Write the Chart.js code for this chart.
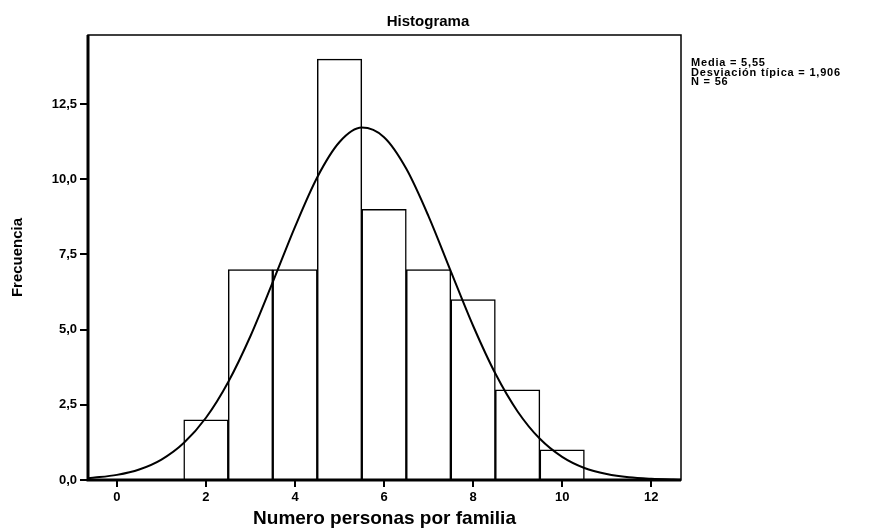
<!DOCTYPE html>
<html>
<head>
<meta charset="utf-8">
<script src="https://cdn.jsdelivr.net/npm/chart.js@4.4.1/dist/chart.umd.min.js"></script>
<style>
  html, body { margin: 0; padding: 0; background: #fff; }
  #wrap { width: 869px; height: 528px; }
</style>
</head>
<body>
<div id="wrap"><canvas id="histChart" width="869" height="528"></canvas></div>
<script>
// datos del histograma
const binCenters = [2, 3, 4, 5, 6, 7, 8, 9, 10];
const frequencies = [2, 7, 7, 14, 9, 7, 6, 3, 1];

// curva normal
const curveX = [-0.65, -0.5, 0, 0.5, 1, 1.5, 2, 2.5, 3, 3.5, 4, 4.5, 5, 5.5, 6, 6.5, 7, 7.5, 8, 8.5, 9, 9.5, 10, 10.5, 11, 11.5, 12, 12.5, 12.67];
const curveY = [0.06, 0.08, 0.17, 0.35, 0.68, 1.23, 2.07, 3.26, 4.79, 6.58, 8.42, 10.07, 11.24, 11.72, 11.40, 10.35, 8.77, 6.94, 5.13, 3.54, 2.28, 1.37, 0.77, 0.40, 0.20, 0.09, 0.04, 0.015, 0.01];

// ticks
const xTicks = [0, 2, 4, 6, 8, 10, 12];
const yTicks = [0, 2.5, 5, 7.5, 10, 12.5];

// titulo y estadísticos
const chartTitle = 'Histograma';
const statLines = ['Media = 5,55', 'Desviación típica = 1,906', 'N = 56'];

const FONT = "'Liberation Sans', Arial, sans-serif";

// titulo, marco y estadísticos
const framePlugin = {
    id: 'frame',
    afterDraw(chart) {
        const ctx = chart.ctx;
        const a = chart.chartArea;
        ctx.save();
        ctx.strokeStyle = '#000';
        ctx.lineWidth = 1.5;
        ctx.strokeRect(a.left, a.top, a.right - a.left, a.bottom - a.top);
        ctx.lineWidth = 3;
        ctx.beginPath();
        ctx.moveTo(a.left, a.top);
        ctx.lineTo(a.left, a.bottom);
        ctx.lineTo(a.right, a.bottom);
        ctx.stroke();

        ctx.fillStyle = '#000';
        ctx.textBaseline = 'middle';
        ctx.textAlign = 'center';
        ctx.font = 'bold 15px ' + FONT;
        ctx.fillText(chartTitle, 428, 22);

        ctx.textAlign = 'left';
        ctx.font = 'bold 11px ' + FONT;
        ctx.letterSpacing = '0.8px';
        statLines.forEach((t, i) => {
            ctx.fillText(t, a.right + 10, 63 + i * 9.5);
        });
        ctx.restore();
    }
};

const ctx = document.getElementById('histChart').getContext('2d');
const myChart = new Chart(ctx, {
    type: 'bar',
    data: {
        datasets: [{
            type: 'line',
            data: curveX.map((x, i) => ({ x: x, y: curveY[i] })),
            borderColor: '#000',
            borderWidth: 2,
            pointRadius: 0,
            fill: false,
            cubicInterpolationMode: 'monotone',
            order: 0
        }, {
            type: 'bar',
            data: binCenters.map((x, i) => ({ x: x, y: frequencies[i] })),
            backgroundColor: '#fff',
            borderColor: '#000',
            borderWidth: 1.5,
            barPercentage: 1,
            categoryPercentage: 1,
            order: 1
        }]
    },
    options: {
        responsive: false,
        animation: false,
        layout: { padding: { left: 0, right: 188, top: 35, bottom: 0 } },
        plugins: {
            legend: { display: false },
            tooltip: { enabled: false },
            title: { display: false }
        },
        scales: {
            x: {
                type: 'linear',
                min: -0.65,
                max: 12.67,
                offset: false,
                afterBuildTicks: (scale) => { scale.ticks = xTicks.map(v => ({ value: v })); },
                afterFit: (scale) => { scale.height = 48; },
                ticks: {
                    color: '#000',
                    font: { family: FONT, size: 13, weight: 'bold' },
                    padding: 3,
                    maxRotation: 0,
                    callback: (v) => String(v)
                },
                grid: { drawOnChartArea: false, offset: false, color: '#000', tickLength: 7, lineWidth: 2 },
                border: { display: false },
                title: {
                    display: true,
                    text: 'Numero personas por familia',
                    color: '#000',
                    font: { family: FONT, size: 19, weight: 'bold', lineHeight: 1 },
                    padding: { top: 0, bottom: 0 }
                }
            },
            y: {
                min: 0,
                max: 14.8,
                afterBuildTicks: (scale) => { scale.ticks = yTicks.map(v => ({ value: v })); },
                afterFit: (scale) => { scale.width = 88; },
                ticks: {
                    color: '#000',
                    font: { family: FONT, size: 13, weight: 'bold' },
                    padding: 3,
                    callback: (v) => v.toFixed(1).replace('.', ',')
                },
                grid: { drawOnChartArea: false, color: '#000', tickLength: 8, lineWidth: 2 },
                border: { display: false },
                title: {
                    display: true,
                    text: 'Frecuencia',
                    color: '#000',
                    font: { family: "'Liberation Sans Narrow', " + FONT, size: 15, weight: 'bold', lineHeight: 1 },
                    padding: { top: 10, bottom: 0 }
                }
            }
        }
    },
    plugins: [framePlugin]
});
</script>
</body>
</html>
